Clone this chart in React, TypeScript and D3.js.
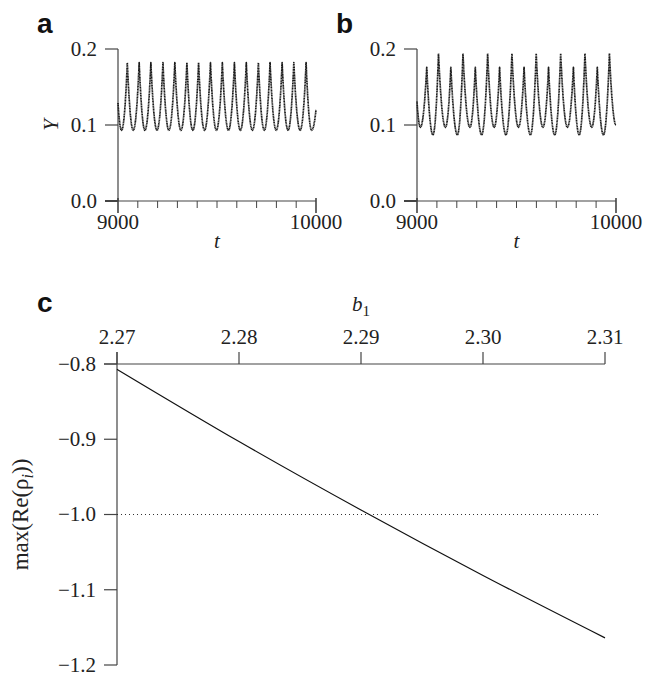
import * as d3 from "d3";
import { useEffect, useRef } from "react";

// panel a: Y(t), extremes (start, trough, peak, ..., end)
const tA = [9000, 9018, 9047, 9077, 9107, 9136, 9166, 9197, 9227, 9257, 9287, 9318, 9348, 9378, 9407, 9437, 9467, 9497, 9527, 9558, 9588, 9618, 9648, 9679, 9709, 9739, 9768, 9799, 9829, 9859, 9888, 9920, 9950, 9978, 10000];
const yA = [0.129, 0.093, 0.182, 0.093, 0.182, 0.093, 0.182, 0.093, 0.182, 0.093, 0.182, 0.093, 0.182, 0.093, 0.182, 0.093, 0.182, 0.093, 0.182, 0.093, 0.182, 0.093, 0.182, 0.093, 0.182, 0.093, 0.182, 0.093, 0.182, 0.093, 0.182, 0.093, 0.182, 0.093, 0.12];

// panel b: period-doubled oscillation
const tB = [9000, 9017, 9049, 9080, 9108, 9143, 9170, 9203, 9231, 9266, 9293, 9325, 9355, 9388, 9415, 9447, 9477, 9510, 9538, 9570, 9599, 9633, 9661, 9692, 9722, 9756, 9786, 9815, 9844, 9878, 9906, 9937, 9967, 10000];
const yB = [0.131, 0.097, 0.176, 0.087, 0.194, 0.097, 0.176, 0.087, 0.194, 0.097, 0.176, 0.087, 0.194, 0.097, 0.176, 0.087, 0.194, 0.097, 0.176, 0.087, 0.194, 0.097, 0.176, 0.087, 0.194, 0.097, 0.176, 0.087, 0.194, 0.097, 0.176, 0.087, 0.194, 0.1];

const yTicksAB = [0.0, 0.1, 0.2];
const tTickLabels = [9000, 10000];

// panel c: max(Re(rho_i)) vs b1
const b1 = [2.27, 2.28, 2.29, 2.30, 2.31];
const maxRe = [-0.807, -0.903, -0.994, -1.081, -1.164];
const b1Ticks = [2.27, 2.28, 2.29, 2.30, 2.31];
const reTicks = [-0.8, -0.9, -1.0, -1.1, -1.2];
const threshold = -1.0;

// path through extremes: sharp at maxima, rounded at minima
function spikyPath(px: number[], py: number[]) {
  const p = d3.path();
  p.moveTo(px[0], py[0]);
  for (let i = 1; i < px.length; i++) {
    const x0 = px[i - 1], y0 = py[i - 1], x1 = px[i], y1 = py[i];
    const dx = x1 - x0;
    if (y0 > y1) p.quadraticCurveTo(x0 + dx * 0.5, y0, x1, y1); // rising from a trough
    else p.quadraticCurveTo(x1 - dx * 0.5, y1, x1, y1); // falling into a trough
  }
  return p.toString();
}

export default function App() {
  const ref = useRef<SVGSVGElement>(null);

  useEffect(() => {
    const svg = d3.select(ref.current);
    svg.selectAll("*").remove();

    const serif = "'Liberation Serif', 'Times New Roman', serif";
    const sans = "'Liberation Sans', Arial, sans-serif";
    const axisColor = "#444";
    const textColor = "#222";
    const fs = 21;

    // --- small time-series panels ---
    function timePanel(x0: number, x1: number, ts: number[], ys: number[], letter: string, showY: boolean) {
      const x = d3.scaleLinear().domain([9000, 10000]).range([x0, x1]);
      const y = d3.scaleLinear().domain([0, 0.2]).range([201, 49]);
      const g = svg.append("g");

      g.append("line")
        .attr("x1", x0).attr("x2", x0)
        .attr("y1", y(0.2)).attr("y2", y(0))
        .attr("stroke", axisColor).attr("stroke-width", 1.2);
      g.append("line")
        .attr("x1", x0).attr("x2", x1)
        .attr("y1", y(0)).attr("y2", y(0))
        .attr("stroke", axisColor).attr("stroke-width", 1.2);

      yTicksAB.forEach(v => {
        g.append("line")
          .attr("x1", x0 - 13).attr("x2", x0)
          .attr("y1", y(v)).attr("y2", y(v))
          .attr("stroke", axisColor).attr("stroke-width", v === 0 ? 2 : 1.2);
        g.append("text")
          .attr("x", x0 - 21).attr("y", y(v))
          .attr("dy", "0.35em")
          .attr("text-anchor", "end")
          .attr("font-family", serif).attr("font-size", fs).attr("fill", textColor)
          .text(d3.format(".1f")(v));
      });

      x.ticks(10).forEach(v => {
        const major = tTickLabels.includes(v);
        g.append("line")
          .attr("x1", x(v)).attr("x2", x(v))
          .attr("y1", y(0) - (major ? 3 : 0)).attr("y2", y(0) + (major ? 12 : 7))
          .attr("stroke", axisColor).attr("stroke-width", major ? 1.6 : 1);
      });
      tTickLabels.forEach(v => {
        g.append("text")
          .attr("x", x(v)).attr("y", 229)
          .attr("text-anchor", "middle")
          .attr("font-family", serif).attr("font-size", fs).attr("fill", textColor)
          .text(v);
      });

      g.append("text")
        .attr("x", (x0 + x1) / 2).attr("y", 248)
        .attr("text-anchor", "middle")
        .attr("font-family", serif).attr("font-style", "italic")
        .attr("font-size", fs).attr("fill", textColor)
        .text("t");

      if (showY) {
        g.append("text")
          .attr("transform", `translate(${x0 - 60},${y(0.1)}) rotate(-90)`)
          .attr("text-anchor", "middle")
          .attr("font-family", serif).attr("font-style", "italic")
          .attr("font-size", fs).attr("fill", textColor)
          .text("Y");
      }

      g.append("text")
        .attr("x", x0 - 81).attr("y", 33)
        .attr("font-family", sans).attr("font-weight", "bold")
        .attr("font-size", 28).attr("fill", "#111")
        .text(letter);

      g.append("path")
        .attr("d", spikyPath(ts.map(x), ys.map(y)))
        .attr("fill", "none")
        .attr("stroke", "#1a1a1a")
        .attr("stroke-width", 1.7)
        .attr("stroke-linejoin", "round")
        .attr("stroke-dasharray", "1.2,0.4");
    }

    timePanel(118, 316, tA, yA, "a", true);
    timePanel(417, 616, tB, yB, "b", false);

    // --- panel c ---
    const xc = d3.scaleLinear().domain([2.27, 2.31]).range([117, 605]);
    const yc = d3.scaleLinear().domain([-1.2, -0.8]).range([665, 364]);
    const gc = svg.append("g");

    gc.append("line")
      .attr("x1", xc(2.27) - 13).attr("x2", xc(2.31))
      .attr("y1", yc(-0.8)).attr("y2", yc(-0.8))
      .attr("stroke", axisColor).attr("stroke-width", 1.2);
    gc.append("line")
      .attr("x1", xc(2.27)).attr("x2", xc(2.27))
      .attr("y1", yc(-0.8) - 12).attr("y2", yc(-1.2))
      .attr("stroke", axisColor).attr("stroke-width", 1.2);

    b1Ticks.forEach(v => {
      gc.append("line")
        .attr("x1", xc(v)).attr("x2", xc(v))
        .attr("y1", yc(-0.8) - 12).attr("y2", yc(-0.8))
        .attr("stroke", axisColor).attr("stroke-width", 1.2);
      gc.append("text")
        .attr("x", xc(v)).attr("y", 344)
        .attr("text-anchor", "middle")
        .attr("font-family", serif).attr("font-size", fs).attr("fill", textColor)
        .text(d3.format(".2f")(v));
    });

    reTicks.forEach(v => {
      gc.append("line")
        .attr("x1", xc(2.27) - 13).attr("x2", xc(2.27))
        .attr("y1", yc(v)).attr("y2", yc(v))
        .attr("stroke", axisColor).attr("stroke-width", 1.2);
      gc.append("text")
        .attr("x", xc(2.27) - 21).attr("y", yc(v))
        .attr("dy", "0.33em")
        .attr("text-anchor", "end")
        .attr("font-family", serif).attr("font-size", fs).attr("fill", textColor)
        .text(d3.format(".1f")(v).replace("-", "\u2212"));
    });

    gc.append("text")
      .attr("x", xc(2.29)).attr("y", 311)
      .attr("text-anchor", "middle")
      .attr("font-family", serif).attr("font-size", fs).attr("fill", textColor)
      .call(t => {
        t.append("tspan").attr("font-style", "italic").text("b");
        t.append("tspan").attr("dy", 5).attr("font-size", 15).text("1");
      });

    const ylab = gc.append("text")
      .attr("transform", `translate(28,${yc(-1.0)}) rotate(-90)`)
      .attr("text-anchor", "middle")
      .attr("font-family", serif).attr("font-size", 23).attr("fill", textColor);
    ylab.append("tspan").text("max(Re(\u03c1");
    ylab.append("tspan").attr("font-style", "italic").attr("font-size", 16).attr("dy", 5).text("i");
    ylab.append("tspan").attr("dy", -5).text("))");

    gc.append("text")
      .attr("x", 37).attr("y", 312)
      .attr("font-family", sans).attr("font-weight", "bold")
      .attr("font-size", 28).attr("fill", "#111")
      .text("c");

    gc.append("line")
      .attr("x1", xc(2.27)).attr("x2", xc(2.31) - 4)
      .attr("y1", yc(threshold)).attr("y2", yc(threshold))
      .attr("stroke", "#333").attr("stroke-width", 1)
      .attr("stroke-dasharray", "1,3");

    const lineC = d3.line<number>()
      .x((_, i) => xc(b1[i]))
      .y(d => yc(d))
      .curve(d3.curveMonotoneX);
    gc.append("path")
      .attr("d", lineC(maxRe))
      .attr("fill", "none")
      .attr("stroke", "#111")
      .attr("stroke-width", 1.2);
  }, []);

  return (
    <svg
      ref={ref}
      width={646}
      height={676}
      style={{ position: "absolute", left: 0, top: 0, background: "#fff", display: "block" }}
    />
  );
}
